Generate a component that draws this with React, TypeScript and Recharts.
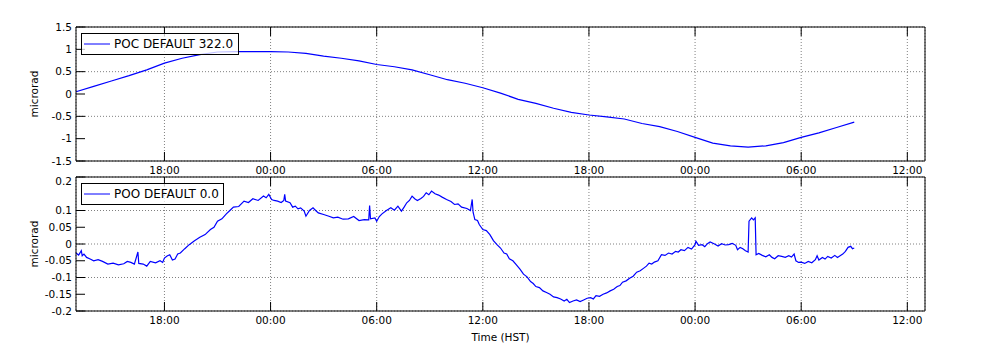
import { CartesianGrid, Legend, Line, LineChart, XAxis, YAxis } from "recharts";

// hours since 13:00 on the first day; ticks every 6 h
const hourTicks = [5, 11, 17, 23, 29, 35, 41, 47];
const hourLabels = ["18:00", "00:00", "06:00", "12:00", "18:00", "00:00", "06:00", "12:00"];

const pocTicks = [-1.5, -1, -0.5, 0, 0.5, 1, 1.5];
const pooTicks = [-0.2, -0.15, -0.1, -0.05, 0, 0.05, 0.1, 0.15, 0.2];

const pocHours = [
  0, 1, 2, 3, 4, 5, 6, 7, 8, 9, 10, 11, 12, 13, 14, 15, 16, 17, 18, 19, 20, 21, 22,
  23, 24, 25, 26, 27, 28, 29, 30, 31, 32, 33, 34, 35, 36, 37, 38, 39, 40, 41, 42, 43, 44,
];
const pocValues = [
  0.05, 0.17, 0.29, 0.41, 0.54, 0.69, 0.8, 0.88, 0.94, 0.95, 0.95, 0.95, 0.94, 0.91, 0.85,
  0.8, 0.74, 0.66, 0.61, 0.54, 0.43, 0.32, 0.24, 0.14, 0.02, -0.12, -0.21, -0.32, -0.41,
  -0.47, -0.51, -0.56, -0.66, -0.73, -0.84, -0.97, -1.1, -1.16, -1.19, -1.16, -1.09, -0.97,
  -0.87, -0.75, -0.63,
];

// rows of ten, same layout in both arrays
const pooHours = [
  0, 0.15, 0.3, 0.35, 0.45, 0.6, 0.8, 1.0, 1.25, 1.5,
  1.8, 2.1, 2.4, 2.7, 2.9, 3.1, 3.3, 3.5, 3.55, 3.8,
  4.0, 4.2, 4.5, 4.75, 4.9, 5.0, 5.15, 5.3, 5.45, 5.6,
  5.75, 5.9, 6.15, 6.4, 6.7, 7.0, 7.3, 7.6, 7.8, 8.0,
  8.25, 8.5, 8.7, 8.9, 9.2, 9.5, 9.75, 10.0, 10.3, 10.6,
  10.75, 10.9, 11.06, 11.2, 11.4, 11.6, 11.75, 11.8, 11.85, 12.1,
  12.25, 12.4, 12.55, 12.7, 12.9, 13.0, 13.2, 13.4, 13.55, 13.7,
  14.0, 14.3, 14.55, 14.8, 15.1, 15.4, 15.7, 16.0, 16.3, 16.55,
  16.6, 16.65, 16.9, 17.0, 17.15, 17.3, 17.55, 17.8, 18.0, 18.2,
  18.4, 18.55, 18.7, 18.85, 19.0, 19.15, 19.3, 19.5, 19.65, 19.8,
  19.95, 20.1, 20.3, 20.5, 20.7, 20.95, 21.2, 21.4, 21.6, 21.8,
  22.1, 22.3, 22.4, 22.45, 22.55, 22.7, 22.8, 23.0, 23.2, 23.4,
  23.6, 23.8, 24.0, 24.2, 24.35, 24.5, 24.7, 24.9, 25.1, 25.3,
  25.5, 25.7, 25.85, 26.0, 26.2, 26.4, 26.6, 26.8, 27.0, 27.2,
  27.4, 27.6, 27.75, 27.9, 28.1, 28.3, 28.5, 28.7, 28.9, 29.1,
  29.25, 29.4, 29.6, 29.8, 30.0, 30.2, 30.4, 30.6, 30.75, 30.9,
  31.1, 31.3, 31.5, 31.7, 31.9, 32.1, 32.25, 32.4, 32.55, 32.7,
  32.9, 33.1, 33.3, 33.5, 33.7, 33.9, 34.05, 34.2, 34.4, 34.6,
  34.8, 35.0, 35.05, 35.2, 35.4, 35.55, 35.7, 35.85, 36.1, 36.3,
  36.5, 36.7, 36.9, 37.1, 37.3, 37.4, 37.55, 37.7, 37.85, 38.0,
  38.05, 38.2, 38.3, 38.4, 38.45, 38.6, 38.8, 39.0, 39.2, 39.35,
  39.5, 39.7, 39.9, 40.1, 40.3, 40.45, 40.6, 40.7, 40.85, 41.0,
  41.2, 41.4, 41.6, 41.8, 41.9, 42.0, 42.2, 42.35, 42.5, 42.7,
  42.9, 43.05, 43.2, 43.35, 43.5, 43.65, 43.8, 43.9, 44.0,
];
const pooValues = [
  -0.027, -0.033, -0.02, -0.035, -0.03, -0.04, -0.045, -0.05, -0.047, -0.052,
  -0.06, -0.057, -0.062, -0.059, -0.052, -0.055, -0.06, -0.024, -0.058, -0.06,
  -0.066, -0.052, -0.056, -0.05, -0.055, -0.042, -0.036, -0.032, -0.048, -0.045,
  -0.03, -0.027, -0.014, -0.002, 0.01, 0.02, 0.028, 0.043, 0.05, 0.068,
  0.075, 0.09, 0.1, 0.11, 0.112, 0.128, 0.124, 0.135, 0.13, 0.143,
  0.138, 0.148, 0.133, 0.13, 0.128, 0.124, 0.13, 0.148, 0.128, 0.123,
  0.11, 0.113, 0.105, 0.108, 0.098, 0.083, 0.1, 0.108, 0.1, 0.093,
  0.088, 0.083, 0.078, 0.08, 0.074, 0.075, 0.082, 0.07, 0.073, 0.072,
  0.115, 0.075, 0.078, 0.068, 0.082, 0.09, 0.1, 0.108, 0.101, 0.113,
  0.098, 0.11, 0.123, 0.13, 0.143, 0.135, 0.13, 0.136, 0.142, 0.153,
  0.147, 0.158, 0.15, 0.146, 0.14, 0.133, 0.127, 0.118, 0.12, 0.11,
  0.106, 0.1, 0.133, 0.095, 0.073, 0.07, 0.058, 0.043, 0.04, 0.028,
  0.01, -0.002, -0.012, -0.027, -0.03, -0.044, -0.05, -0.062, -0.075, -0.09,
  -0.098, -0.112, -0.118, -0.127, -0.13, -0.14, -0.145, -0.15, -0.158, -0.16,
  -0.164, -0.17, -0.165, -0.175, -0.17, -0.167, -0.172, -0.167, -0.162, -0.16,
  -0.164, -0.154, -0.156, -0.15, -0.146, -0.14, -0.135, -0.127, -0.124, -0.114,
  -0.11, -0.102, -0.096, -0.084, -0.08, -0.072, -0.066, -0.057, -0.06, -0.054,
  -0.05, -0.032, -0.034, -0.027, -0.03, -0.022, -0.024, -0.017, -0.02, -0.01,
  -0.015, -0.002, 0.008, -0.004, -0.002, -0.008, 0.001, 0.006, 0, -0.006,
  0.001, -0.003, -0.002, 0.002, -0.004, -0.017, -0.01, -0.014, -0.02, -0.024,
  0.068, 0.078, 0.072, 0.078, -0.032, -0.028, -0.034, -0.038, -0.032, -0.04,
  -0.044, -0.035, -0.037, -0.04, -0.035, -0.039, -0.03, -0.05, -0.055, -0.054,
  -0.058, -0.052, -0.056, -0.047, -0.035, -0.048, -0.04, -0.045, -0.037, -0.042,
  -0.034, -0.04, -0.035, -0.03, -0.022, -0.01, -0.007, -0.014, -0.012,
];

const BLUE = "#0000ff";
const FONT = 10.5;

const hourLabel = (h: number) => hourLabels[hourTicks.indexOf(h)] ?? "";
const blank = () => "";

function LegendBox({ name, width }: { name: string; width: number }) {
  return (
    <div
      style={{
        width,
        height: 20,
        border: "1px solid #000",
        background: "rgba(255,255,255,0.75)",
        display: "flex",
        alignItems: "center",
        fontSize: 12,
      }}
    >
      <svg width={32} height={20}>
        <line x1={2} x2={28} y1={10} y2={10} stroke={BLUE} strokeWidth={1} />
      </svg>
      <span style={{ whiteSpace: "nowrap" }}>{name}</span>
    </div>
  );
}

function Panel({
  hours,
  values,
  ticks,
  name,
  legendWidth,
  legendTop,
  marginTop,
  bottomHeight,
  xTitle,
}: {
  hours: number[];
  values: number[];
  ticks: number[];
  name: string;
  legendWidth: number;
  legendTop: number;
  marginTop: number;
  bottomHeight: number;
  xTitle?: string;
}) {
  const data = hours.map((h, i) => ({ h, v: values[i] }));
  const domain = [ticks[0], ticks[ticks.length - 1]];
  return (
    <LineChart
      width={1000}
      height={marginTop + 1 + 134 + bottomHeight}
      data={data}
      margin={{ top: marginTop, right: 74, bottom: 0, left: 0 }}
    >
      <CartesianGrid xAxisId="b" yAxisId="l" stroke="#808080" strokeDasharray="1 2" />
      <XAxis
        xAxisId="b"
        dataKey="h"
        type="number"
        domain={[0, 48]}
        ticks={hourTicks}
        tickFormatter={hourLabel}
        height={bottomHeight}
        tickSize={-9}
        tickMargin={15}
        tick={{ fontSize: FONT, fill: "#000" }}
        axisLine={{ stroke: "#000" }}
        tickLine={{ stroke: "#000" }}
        label={
          xTitle
            ? { value: xTitle, position: "insideBottom", offset: 10, fill: "#000", fontSize: FONT }
            : undefined
        }
      />
      <XAxis
        xAxisId="t"
        orientation="top"
        dataKey="h"
        type="number"
        domain={[0, 48]}
        ticks={hourTicks}
        tickFormatter={blank}
        height={1}
        tickSize={-9}
        axisLine={{ stroke: "#000" }}
        tickLine={{ stroke: "#000" }}
      />
      <YAxis
        yAxisId="l"
        type="number"
        domain={domain}
        ticks={ticks}
        width={76}
        tickSize={-9}
        tickMargin={13}
        tick={{ fontSize: FONT, fill: "#000" }}
        axisLine={{ stroke: "#000" }}
        tickLine={{ stroke: "#000" }}
        label={{ value: "microrad", angle: -90, position: "center", dx: -4, fill: "#000", fontSize: FONT }}
      />
      <YAxis
        yAxisId="r"
        orientation="right"
        type="number"
        domain={domain}
        ticks={ticks}
        width={1}
        tickSize={-9}
        tickFormatter={blank}
        axisLine={{ stroke: "#000" }}
        tickLine={{ stroke: "#000" }}
      />
      <Line
        xAxisId="b"
        yAxisId="l"
        dataKey="v"
        type="linear"
        stroke={BLUE}
        strokeWidth={1.2}
        dot={false}
        activeDot={false}
        isAnimationActive={false}
      />
      <Legend
        layout="vertical"
        verticalAlign="middle"
        align="center"
        wrapperStyle={{ top: legendTop, left: 81, width: "auto" }}
        content={() => <LegendBox name={name} width={legendWidth} />}
      />
    </LineChart>
  );
}

export default function App() {
  return (
    <div
      style={{
        position: "absolute",
        left: 0,
        top: 0,
        width: 1000,
        height: 360,
        background: "#fff",
        fontFamily: "'DejaVu Sans', sans-serif",
      }}
    >
      <div style={{ position: "absolute", left: 0, top: 0 }}>
        <Panel
          hours={pocHours}
          values={pocValues}
          ticks={pocTicks}
          name="POC DEFAULT 322.0"
          legendWidth={156}
          legendTop={33}
          marginTop={26}
          bottomHeight={15}
        />
      </div>
      <div style={{ position: "absolute", left: 0, top: 176 }}>
        <Panel
          hours={pooHours}
          values={pooValues}
          ticks={pooTicks}
          name="POO DEFAULT 0.0"
          legendWidth={141}
          legendTop={7}
          marginTop={0}
          bottomHeight={40}
          xTitle="Time (HST)"
        />
      </div>
    </div>
  );
}
